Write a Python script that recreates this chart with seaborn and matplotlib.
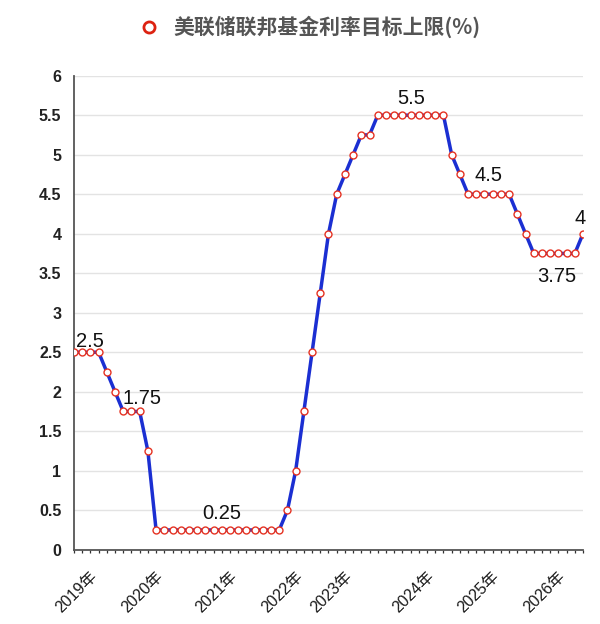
import numpy as np
import pandas as pd
import matplotlib
matplotlib.use("Agg")
import matplotlib.pyplot as plt
from matplotlib.lines import Line2D
from matplotlib.transforms import ScaledTranslation
import seaborn as sns

# ---- data ----
rates = [2.5, 2.5, 2.5, 2.5, 2.25, 2.0, 1.75, 1.75, 1.75, 1.25,
         0.25, 0.25, 0.25, 0.25, 0.25, 0.25, 0.25, 0.25, 0.25, 0.25,
         0.25, 0.25, 0.25, 0.25, 0.25, 0.25,
         0.5, 1.0, 1.75, 2.5, 3.25, 4.0, 4.5, 4.75, 5.0, 5.25, 5.25,
         5.5, 5.5, 5.5, 5.5, 5.5, 5.5, 5.5, 5.5, 5.5,
         5.0, 4.75, 4.5, 4.5, 4.5, 4.5, 4.5, 4.5,
         4.25, 4.0, 3.75, 3.75, 3.75, 3.75, 3.75, 3.75, 4.0]
year_labels = ["2019年", "2020年", "2021年", "2022年", "2023年", "2024年", "2025年", "2026年"]
year_positions = [0, 8, 17, 25, 31, 41, 49, 57]
annot_texts = ["2.5", "1.75", "0.25", "5.5", "4.5", "3.75", "4"]
annot_x = [2.0, 8.3, 18.0, 41.1, 50.5, 58.8, 61.6]
annot_y = [2.64, 1.92, 0.46, 5.71, 4.74, 3.46, 4.19]
series_name = "美联储联邦基金利率目标上限(%)"

df = pd.DataFrame({"idx": np.arange(len(rates)), "rate": rates})

sns.set_theme(style="white")
plt.rcParams["font.family"] = ["Liberation Sans", "Noto Sans CJK SC", "DejaVu Sans"]

fig = plt.figure(figsize=(6.0, 6.24), dpi=100)
ax = fig.add_axes([0.1233, 0.119, 0.8484, 0.7597])

line_color = "#1b2fd2"
mk_edge = "#e53222"

sns.lineplot(data=df, x="idx", y="rate", ax=ax, color=line_color, linewidth=2.5,
             marker="o", markersize=5, markerfacecolor="white",
             markeredgecolor=mk_edge, markeredgewidth=1.0, zorder=3)

ax.set_xlim(0, len(rates) - 1)
ax.set_ylim(0, 6)
ax.set_yticks(np.arange(0, 6.01, 0.5))
ax.set_yticklabels([f"{v:g}" for v in np.arange(0, 6.01, 0.5)],
                   fontsize=11.5, fontweight="bold", color="#222222")
ax.grid(axis="y", color="#e3e3e3", linewidth=1.0)
ax.grid(axis="x", visible=False)
ax.set_axisbelow(True)

ax.set_xticks(year_positions)
ax.set_xticklabels(year_labels, rotation=45, ha="right", va="top",
                   rotation_mode="anchor", fontsize=11.5, color="#1a1a1a")
ax.set_xticks(np.arange(len(rates)), minor=True)
ax.tick_params(axis="x", which="both", direction="out", length=2.2, width=0.9,
               color="#333333", bottom=True, pad=1)
ax.tick_params(axis="y", length=0, pad=9)
for lab in ax.get_xticklabels():
    lab.set_transform(lab.get_transform() + ScaledTranslation(0.155, -0.14, fig.dpi_scale_trans))

for side in ["top", "right"]:
    ax.spines[side].set_visible(False)
for side in ["left", "bottom"]:
    ax.spines[side].set_color("#555555")
    ax.spines[side].set_linewidth(1.3)

ax.set_xlabel("")
ax.set_ylabel("")

for t, x, y in zip(annot_texts, annot_x, annot_y):
    ax.text(x, y, t, ha="center", va="center", fontsize=14.5, color="#111111", zorder=4)

handle = Line2D([], [], linestyle="none", marker="o", markersize=8,
                markerfacecolor="white", markeredgecolor="#dd2211", markeredgewidth=2)
fig.legend([handle], [series_name], loc="center", bbox_to_anchor=(0.507, 0.957),
           frameon=False, handletextpad=0.2,
           prop={"size": 15, "weight": "bold", "family": ["Noto Sans CJK SC", "DejaVu Sans"]},
           labelcolor="#555555")

fig.savefig("out.png", dpi=100, facecolor="white")
